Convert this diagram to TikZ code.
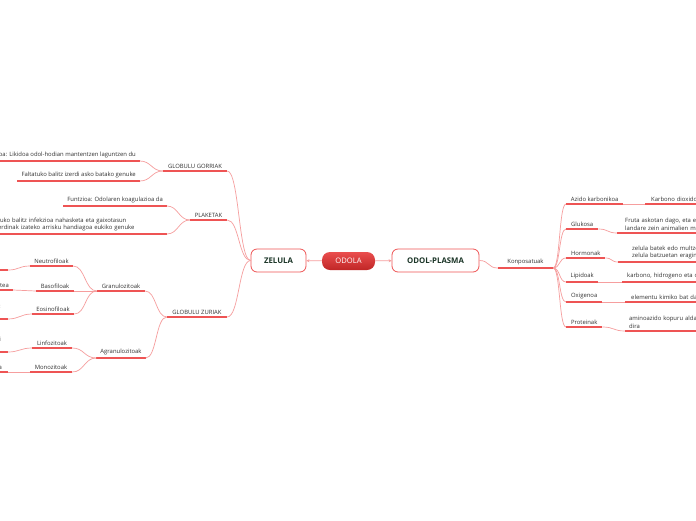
\documentclass[tikz,border=0pt]{standalone}
\usepackage{fontspec}
\setmainfont{Open Sans}
\usetikzlibrary{arrows.meta, positioning}

\definecolor{mapred}{RGB}{238,84,84}
\definecolor{linkred}{RGB}{246,158,158}
\definecolor{topicgreen}{RGB}{26,52,38}
\definecolor{odolatop}{RGB}{234,78,78}
\definecolor{odolabot}{RGB}{192,38,38}

\begin{document}
\begin{tikzpicture}[
    x=1pt, y=-1pt,
    main/.style={rectangle, rounded corners=6pt, draw=mapred, fill=white, line width=0.8pt, text=topicgreen, font=\fontsize{7.8}{9}\selectfont\bfseries, minimum height=23pt},
    root/.style={rectangle, rounded corners=8pt, top color=odolatop, bottom color=odolabot, draw=none, text=white, font=\fontsize{7.6}{9}\selectfont, minimum width=53pt, minimum height=18pt},
    topic/.style={font=\fontsize{5.9}{7.6}\selectfont, text=black!80, inner xsep=4pt, inner ysep=2.6pt},
    under/.style={draw=mapred, line width=1.6pt},
    link/.style={draw=linkred, line width=0.7pt},
    tip/.style={link, -{Stealth[length=3pt, width=3pt]}}
]

\fill[white] (0,0) rectangle (696,520);
\useasboundingbox (0,0) rectangle (696,520);
\clip (0,0) rectangle (696,520);

% Centre
\node[root] (odola) at (348.5,261) {ODOLA};
\node[main, minimum width=55pt] (zelula) at (278.5,260.5) {ZELULA};
\node[main, minimum width=87pt] (plasma) at (435.5,260.5) {ODOL-PLASMA};

% Zelula branch
\node[topic, anchor=south, minimum width=64pt] (gorri) at (195,171) {GLOBULU GORRIAK};
\node[topic, anchor=south east] (gorri1) at (140,161) {Funtzioa: Likidoa odol-hodian mantentzen laguntzen du};
\node[topic, anchor=south east] (gorri2) at (140,181) {Faltatuko balitz izerdi asko batako genuke};

\node[topic, anchor=south, minimum width=37pt] (plaket) at (208.5,220) {PLAKETAK};
\node[topic, anchor=south east] (plaket1) at (167,206) {Funtzioa: Odolaren koagulazioa da};
\node[topic, anchor=south east, align=left, text width=178pt] (plaket2) at (167,234) {Faltatuko balitz infekzioa nahasketa eta gaixotasun\\desberdinak izateko arrisku handiagoa eukiko genuke};

\node[topic, anchor=south, minimum width=60pt] (zuri) at (197,317) {GLOBULU ZURIAK};
\node[topic, anchor=south, minimum width=48pt] (granu) at (121,291) {Granulozitoak};
\node[topic, anchor=south, minimum width=48pt] (agranu) at (121,358) {Agranulozitoak};

\node[topic, anchor=south, minimum width=43pt] (neutro) at (51.5,266) {Neutrofiloak};
\node[topic, anchor=south, minimum width=38pt] (baso) at (55,291) {Basofiloak};
\node[topic, anchor=south, minimum width=42pt] (eosino) at (53,314) {Eosinofiloak};
\node[topic, anchor=south, minimum width=40pt] (linfo) at (52,348) {Linfozitoak};
\node[topic, anchor=south, minimum width=42pt] (mono) at (51,372) {Monozitoak};

% Cut off at the left edge
\node[topic, anchor=south east, minimum width=20pt] (neutro1) at (8,270) {};
\node[topic, anchor=south east] (baso1) at (13,290) {tea};
\node[topic, anchor=south east, align=right, inner xsep=7pt] (eosino1) at (8,319) {:\\\mbox{}};
\node[topic, anchor=south east, align=right, inner xsep=7pt] (linfo1) at (8,352) {i\\\mbox{}};
\node[topic, anchor=south east, inner xsep=6pt] (mono1) at (8,372) {a};

% Odol-plasma branch
\node[topic, anchor=south, minimum width=55pt] (konpo) at (525.5,268) {Konposatuak};
\node[topic, anchor=south west, minimum width=57pt] (azido) at (566,204) {Azido karbonikoa};
\node[topic, anchor=south west, minimum width=32pt] (gluk) at (566,229) {Glukosa};
\node[topic, anchor=south west, minimum width=39pt] (horm) at (566,258) {Hormonak};
\node[topic, anchor=south west, minimum width=32pt] (lipi) at (566,282) {Lipidoak};
\node[topic, anchor=south west, minimum width=36pt] (oxi) at (566,302) {Oxigenoa};
\node[topic, anchor=south west, minimum width=36pt] (prot) at (566,327) {Proteinak};

% Cut off at the right edge
\node[topic, anchor=south west, align=left, text width=95pt, inner xsep=6pt] (azido1) at (645,204) {Karbono dioxido};
\node[topic, anchor=south west, align=left, text width=95pt, inner xsep=8pt] (gluk1) at (617,233) {Fruta askotan dago, eta e\\landare zein animalien m};
\node[topic, anchor=south west, align=left, text width=95pt, inner xsep=14pt] (horm1) at (618,262) {zelula batek edo multzo\\zelula batzuetan eragin};
\node[topic, anchor=south west, align=left, text width=95pt, inner xsep=5pt] (lipi1) at (622,282) {karbono, hidrogeno eta o};
\node[topic, anchor=south west, align=left, text width=95pt, inner xsep=6pt] (oxi1) at (625,302) {elementu kimiko bat da};
\node[topic, anchor=south west, align=left, text width=95pt, inner xsep=4pt] (prot1) at (625,331) {aminoazido kopuru alda\\dira};

% Underlines
\foreach \n in {gorri, gorri1, gorri2, plaket, plaket1, plaket2, zuri, granu, agranu,
    neutro, baso, eosino, linfo, mono, neutro1, baso1, eosino1, linfo1, mono1,
    konpo, azido, azido1, gluk, gluk1, horm, horm1, lipi, lipi1, oxi, oxi1, prot, prot1}
    \draw[under] (\n.south west) -- (\n.south east);

% Connections
\draw[tip] (odola) -- (zelula);
\draw[tip] (odola) -- (plasma);

\draw[link] (zelula.west) .. controls +(-12,0) and +(12,0) .. (gorri.south east);
\draw[link] (zelula.west) .. controls +(-12,0) and +(12,0) .. (plaket.south east);
\draw[link] (zelula.west) .. controls +(-12,0) and +(12,0) .. (zuri.south east);
\draw[link] (gorri.south west) .. controls +(-11,0) and +(11,0) .. (gorri1.south east);
\draw[link] (gorri.south west) .. controls +(-11,0) and +(11,0) .. (gorri2.south east);
\draw[link] (plaket.south west) .. controls +(-11,0) and +(11,0) .. (plaket1.south east);
\draw[link] (plaket.south west) .. controls +(-11,0) and +(11,0) .. (plaket2.south east);
\draw[link] (zuri.south west) .. controls +(-11,0) and +(11,0) .. (granu.south east);
\draw[link] (zuri.south west) .. controls +(-11,0) and +(11,0) .. (agranu.south east);
\draw[link] (granu.south west) .. controls +(-12,0) and +(12,0) .. (neutro.south east);
\draw[link] (granu.south west) .. controls +(-12,0) and +(12,0) .. (baso.south east);
\draw[link] (granu.south west) .. controls +(-12,0) and +(12,0) .. (eosino.south east);
\draw[link] (agranu.south west) .. controls +(-12,0) and +(12,0) .. (linfo.south east);
\draw[link] (agranu.south west) .. controls +(-12,0) and +(12,0) .. (mono.south east);
\draw[link] (neutro.south west) .. controls +(-11,0) and +(11,0) .. (neutro1.south east);
\draw[link] (baso.south west) -- (baso1.south east);
\draw[link] (eosino.south west) .. controls +(-11,0) and +(11,0) .. (eosino1.south east);
\draw[link] (linfo.south west) .. controls +(-11,0) and +(11,0) .. (linfo1.south east);
\draw[link] (mono.south west) -- (mono1.south east);

\draw[link] (plasma.east) .. controls +(10,0) and +(-10,0) .. (konpo.south west);
\draw[link] (konpo.south east) .. controls +(7,0) and +(-7,0) .. (azido.south west);
\draw[link] (konpo.south east) .. controls +(7,0) and +(-7,0) .. (gluk.south west);
\draw[link] (konpo.south east) .. controls +(7,0) and +(-7,0) .. (horm.south west);
\draw[link] (konpo.south east) .. controls +(7,0) and +(-7,0) .. (lipi.south west);
\draw[link] (konpo.south east) .. controls +(7,0) and +(-7,0) .. (oxi.south west);
\draw[link] (konpo.south east) .. controls +(7,0) and +(-7,0) .. (prot.south west);
\draw[link] (azido.south east) .. controls +(11,0) and +(-11,0) .. (azido1.south west);
\draw[link] (gluk.south east) .. controls +(10,0) and +(-10,0) .. (gluk1.south west);
\draw[link] (horm.south east) .. controls +(7,0) and +(-7,0) .. (horm1.south west);
\draw[link] (lipi.south east) .. controls +(12,0) and +(-12,0) .. (lipi1.south west);
\draw[link] (oxi.south east) .. controls +(12,0) and +(-12,0) .. (oxi1.south west);
\draw[link] (prot.south east) .. controls +(12,0) and +(-12,0) .. (prot1.south west);

\end{tikzpicture}
\end{document}
